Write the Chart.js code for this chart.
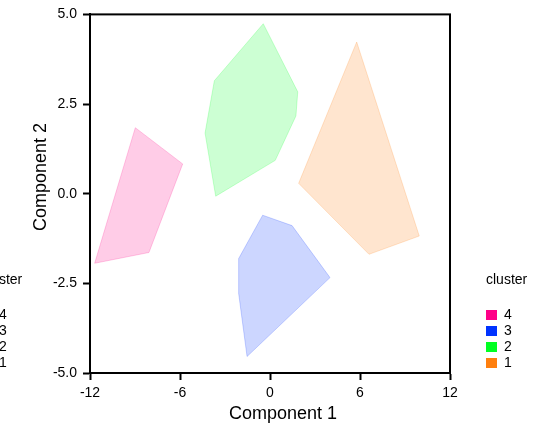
<!DOCTYPE html>
<html>
<head>
<meta charset="utf-8">
<script src="https://cdn.jsdelivr.net/npm/chart.js@4"></script>
<style>
  html, body { margin: 0; padding: 0; background: #fff; }
  #wrap { width: 536px; height: 426px; }
</style>
</head>
<body>
<div id="wrap"><canvas id="chart" width="536" height="426"></canvas></div>
<script>
// cluster hulls (x = Component 1, y = Component 2)
const clusters = ["4", "3", "2", "1"];
const colors = ["#FF0088", "#0033FF", "#00FF22", "#FF7F0E"];
const fills = ["rgba(255,0,136,0.2)", "rgba(0,51,255,0.2)", "rgba(0,255,34,0.2)", "rgba(255,127,14,0.2)"];

const hull4 = [[-8.98, 1.84], [-5.82, 0.83], [-8.07, -1.64], [-11.69, -1.94]];
const hull3 = [[-0.49, -0.60], [1.47, -0.89], [4.0, -2.34], [-1.53, -4.54], [-2.09, -2.78], [-2.09, -1.81]];
const hull2 = [[-0.45, 4.74], [1.85, 2.84], [1.73, 2.17], [0.35, 0.93], [-3.62, -0.07], [-4.33, 1.69], [-3.71, 3.15]];
const hull1 = [[5.78, 4.23], [9.95, -1.18], [6.6, -1.69], [1.91, 0.29]];

const xTicks = [-12, -6, 0, 6, 12];
const yTicks = [-5, -2.5, 0, 2.5, 5];

const FONT = "'Liberation Sans', Arial, Helvetica, sans-serif";

function toPoints(hull) {
  const pts = hull.map(p => ({ x: p[0], y: p[1] }));
  pts.push({ x: hull[0][0], y: hull[0][1] });
  return pts;
}

const hulls = [hull4, hull3, hull2, hull1];
const datasets = hulls.map((h, i) => ({
  label: clusters[i],
  data: toPoints(h),
  showLine: true,
  fill: 'shape',
  backgroundColor: fills[i],
  borderColor: fills[i],
  borderWidth: 1,
  pointRadius: 0,
  tension: 0
}));

// box round the plot + titles + legend (also the clipped copy on the left)
const extras = {
  id: 'extras',
  afterDraw(chart) {
    const ctx = chart.ctx;
    const a = chart.chartArea;
    ctx.save();
    ctx.strokeStyle = '#000';
    ctx.lineWidth = 2;
    ctx.strokeRect(a.left, a.top, a.right - a.left, a.bottom - a.top);

    ctx.fillStyle = '#000';
    ctx.font = '18px ' + FONT;
    ctx.textAlign = 'center';
    ctx.textBaseline = 'middle';
    ctx.fillText('Component 1', 283, 414);
    ctx.save();
    ctx.translate(41, 177);
    ctx.rotate(-Math.PI / 2);
    ctx.fillText('Component 2', 0, 0);
    ctx.restore();

    [486, -19].forEach(lx => {
      ctx.font = '14px ' + FONT;
      ctx.textAlign = 'left';
      ctx.fillStyle = '#000';
      ctx.fillText('cluster', lx, 280);
      clusters.forEach((c, i) => {
        const y = 315 + i * 16;
        ctx.fillStyle = colors[i];
        ctx.fillRect(lx, y - 5, 11, 10);
        ctx.fillStyle = '#000';
        ctx.fillText(c, lx + 18, y);
      });
    });
    ctx.restore();
  }
};

new Chart(document.getElementById('chart'), {
  type: 'scatter',
  data: { datasets },
  options: {
    responsive: false,
    animation: false,
    layout: { padding: { left: 0, top: 13, right: 86, bottom: 0 } },
    plugins: { legend: { display: false }, tooltip: { enabled: false } },
    scales: {
      x: {
        min: -12, max: 12,
        afterBuildTicks: s => { s.ticks = xTicks.map(v => ({ value: v })); },
        afterFit: s => { s.height = 53; },
        grid: { drawOnChartArea: false, tickLength: 7, tickWidth: 2, tickColor: '#000' },
        border: { display: true, color: '#000', width: 2 },
        ticks: { color: '#000', padding: 5, font: { size: 14, family: FONT }, maxRotation: 0 }
      },
      y: {
        min: -5, max: 5,
        afterBuildTicks: s => { s.ticks = yTicks.map(v => ({ value: v })); },
        afterFit: s => { s.width = 90; },
        grid: { drawOnChartArea: false, tickLength: 7, tickWidth: 2, tickColor: '#000' },
        border: { display: true, color: '#000', width: 2 },
        ticks: {
          color: '#000', padding: 6, font: { size: 14, family: FONT },
          callback: v => v.toFixed(1)
        }
      }
    }
  },
  plugins: [extras]
});
</script>
</body>
</html>
